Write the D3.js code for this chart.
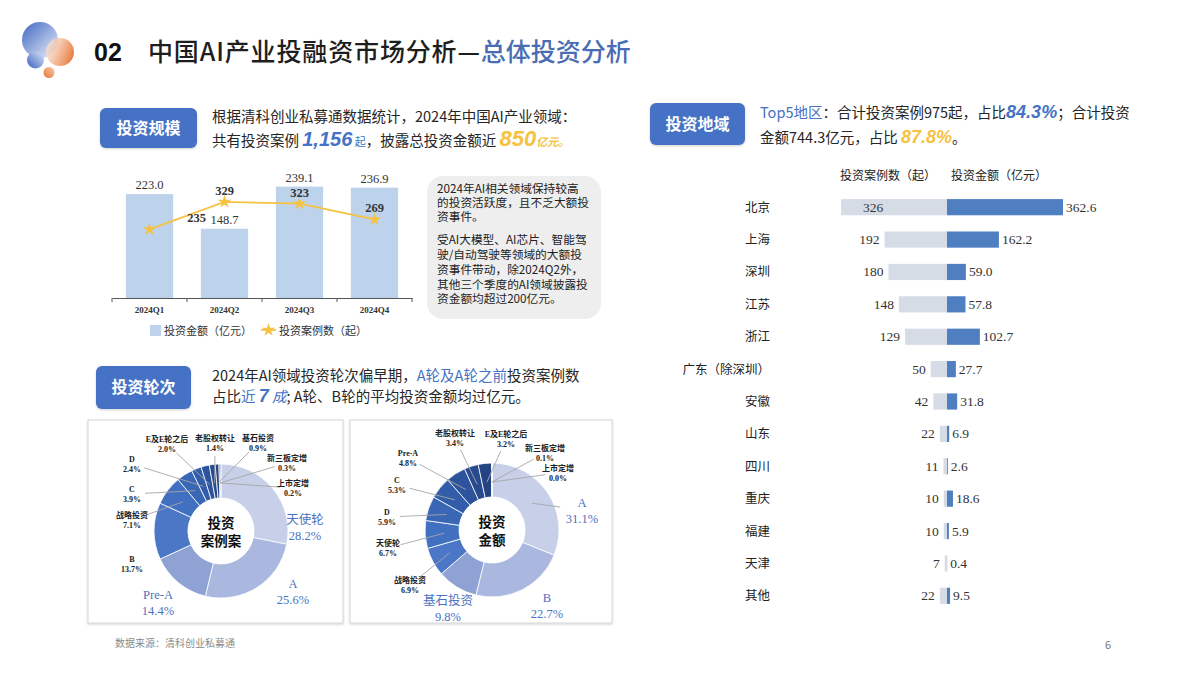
<!DOCTYPE html>
<html><head><meta charset="utf-8">
<script src="https://cdn.jsdelivr.net/npm/d3@7"></script>
<style>body{margin:0;background:#fff} svg text{font-family:"Noto Sans CJK SC","Noto Sans",sans-serif}</style>
</head><body><svg id="c" width="1200" height="675"></svg>
<script>
// ---------------- DATA ----------------
const quarters=["2024Q1","2024Q2","2024Q3","2024Q4"];
const amountQ=[223.0,148.7,239.1,236.9];
const casesQ=[235,329,323,269];

const roundCasesLabels=["天使轮","A","Pre-A","B","战略投资","C","D","E及E轮之后","老股权转让","基石投资","新三板定增","上市定增"];
const roundCasesValues=[28.2,25.6,14.4,13.7,7.1,3.9,2.4,2.0,1.4,0.9,0.3,0.2];
const roundAmountLabels=["A","B","基石投资","战略投资","天使轮","D","C","Pre-A","老股权转让","E及E轮之后","新三板定增","上市定增"];
const roundAmountValues=[31.1,22.7,9.8,6.9,6.7,5.9,5.3,4.8,3.4,3.2,0.1,0.0];

const regions=["北京","上海","深圳","江苏","浙江","广东（除深圳）","安徽","山东","四川","重庆","福建","天津","其他"];
const regionCases=[326,192,180,148,129,50,42,22,11,10,10,7,22];
const regionAmount=[362.6,162.2,59.0,57.8,102.7,27.7,31.8,6.9,2.6,18.6,5.9,0.4,9.5];

// ---------------- LAYOUT ----------------
const BLUE="#4472c4", GOLD="#f5c242", TXT="#262626";
const shades=["#c8d0e9","#aab8df","#8ea2d4","#4b77c6","#4270c0","#3966b5","#325daa","#2c539c","#284b8f","#234383","#1f3c77","#1c366c"];
// label offsets (text block centre relative to donut centre)
const leftLabelPos=[[84,-4],[72,60],[-63,71],[-89,33],[-89,-11],[-89,-37],[-89,-67],[-54,-87],[-6,-88],[37,-88],[66,-68],[72,-43]];
const leftBig=[1,1,1,0,0,0,0,0,0,0,0,0];
const leftLine=[0,0,0,0,1,1,1,1,1,1,1,1];
const rightLabelPos=[[90,-20],[55,75],[-44,78],[-82,55],[-104,18],[-105,-13],[-95,-45],[-84,-72],[-37,-92],[14,-91],[53,-77],[66,-57]];
const rightBig=[1,1,1,0,0,0,0,0,0,0,0,0];
const rightLine=[1,0,0,1,1,1,1,1,1,1,1,1];

const svg=d3.select("#c");
const defs=svg.append("defs");
function lin(id,c1,c2,x1,y1,x2,y2,o1=1,o2=1){
  const g=defs.append("linearGradient").attr("id",id).attr("x1",x1).attr("y1",y1).attr("x2",x2).attr("y2",y2);
  g.append("stop").attr("offset","0%").attr("stop-color",c1).attr("stop-opacity",o1);
  g.append("stop").attr("offset","100%").attr("stop-color",c2).attr("stop-opacity",o2);
}
lin("gBig","#3f66c2","#eef2fa","0","0","1","1");
lin("gOr","#fbe6d8","#e8763a","0","0.3","1","0.7",0.7,1);
lin("gSb","#3a60c0","#dde5f6","0","1","1","0");
lin("gSo","#e8763a","#f8c9a8","0","1","1","0");
const sh=defs.append("filter").attr("id","sh").attr("x","-5%").attr("y","-5%").attr("width","110%").attr("height","115%");
sh.append("feDropShadow").attr("dx",0).attr("dy",1).attr("stdDeviation",1.2).attr("flood-color","#000").attr("flood-opacity",0.18);

// logo
svg.append("circle").attr("cx",40).attr("cy",40).attr("r",18).attr("fill","url(#gBig)");
svg.append("circle").attr("cx",35.5).attr("cy",60).attr("r",8.5).attr("fill","url(#gSb)");
svg.append("circle").attr("cx",60).attr("cy",52).attr("r",14).attr("fill","url(#gOr)");
svg.append("circle").attr("cx",49).attr("cy",72.5).attr("r",5.5).attr("fill","url(#gSo)");

// title
svg.append("text").attr("x",94).attr("y",61).attr("font-size",25).attr("font-weight","bold")
  .style("font-family","'Liberation Sans',Arial,sans-serif").attr("fill","#111").text("02");
const tt=svg.append("text").attr("x",148).attr("y",61).attr("font-size",25).attr("font-weight",500);
tt.append("tspan").attr("fill","#1e1e1e").attr("textLength",332).attr("lengthAdjust","spacing").text("中国AI产业投融资市场分析—");
tt.append("tspan").attr("fill","#4a6cb3").text("总体投资分析");

function button(x,y,w,h,label){
  svg.append("rect").attr("x",x).attr("y",y).attr("width",w).attr("height",h).attr("rx",6).attr("fill",BLUE).attr("filter","url(#sh)");
  svg.append("text").attr("x",x+w/2).attr("y",y+h/2+5.5).attr("text-anchor","middle").attr("font-size",16).attr("font-weight","bold").attr("fill","#fff").text(label);
}
function rich(x,y,parts,size=14.5){
  const t=svg.append("text").attr("x",x).attr("y",y).attr("font-size",size).attr("fill",TXT);
  parts.forEach(p=>{
    const s=t.append("tspan").text(p.t);
    if(p.c) s.attr("fill",p.c);
    if(p.s) s.attr("font-size",p.s);
    if(p.b) s.attr("font-weight","bold");
    if(p.i) s.attr("font-style","italic");
    if(p.f) s.style("font-family",p.f);
  });
  return t;
}
const ARIAL="'Liberation Sans',Arial,sans-serif", SERIF="'Liberation Serif','Noto Sans CJK SC',serif";

// ---------------- Section 1 ----------------
button(100,108,97,40,"投资规模");
rich(212,122,[{t:"根据清科创业私募通数据统计，2024年中国AI产业领域："}]);
rich(212,146,[{t:"共有投资案例 "},{t:"1,156",c:BLUE,s:20,b:1,i:1,f:ARIAL},{t:" 起",c:BLUE,s:11},{t:"，披露总投资金额近 "},{t:"850",c:GOLD,s:22,b:1,i:1,f:ARIAL},{t:"亿元。",c:GOLD,s:11,b:1,i:1}]);

const xQ=d3.scaleBand().domain(quarters).range([112,412]).paddingInner(0.37).paddingOuter(0.185);
const yBar=d3.scaleLinear().domain([0,250]).range([298,181.5]);
const yLine=d3.scaleLinear().domain([0,400]).range([298,181.2]);
const gc=svg.append("g");
gc.selectAll("rect.bq").data(amountQ).join("rect").attr("class","bq")
  .attr("x",(d,i)=>xQ(quarters[i])).attr("width",xQ.bandwidth())
  .attr("y",d=>yBar(d)).attr("height",d=>yBar(0)-yBar(d)).attr("fill","#bdd3ec");
const ax=gc.append("g").attr("transform","translate(0,298)").call(d3.axisBottom(xQ).tickSize(0).tickPadding(9));
ax.select(".domain").attr("stroke","#555").attr("stroke-width",1.2);
ax.selectAll("text").style("font-family",SERIF).attr("font-size",9).attr("fill","#333").attr("font-weight","bold");
[0,1,2,3,4].forEach(i=>{const x=xQ.range()[0]+i*xQ.step();
  gc.append("line").attr("x1",x).attr("x2",x).attr("y1",298).attr("y2",302).attr("stroke","#555");});
gc.selectAll("text.bl").data(amountQ).join("text").attr("class","bl")
  .attr("x",(d,i)=>xQ(quarters[i])+xQ.bandwidth()/2).attr("y",d=>yBar(d)-5)
  .attr("text-anchor","middle").style("font-family",SERIF).attr("font-size",12.5).attr("fill","#333").text(d=>d.toFixed(1));
const line=d3.line().x((d,i)=>xQ(quarters[i])+xQ.bandwidth()/2).y(d=>yLine(d));
gc.append("path").datum(casesQ).attr("d",line).attr("fill","none").attr("stroke",GOLD).attr("stroke-width",1.8);
const star=d3.symbol().type(d3.symbolStar).size(55);
gc.selectAll("path.st").data(casesQ).join("path").attr("class","st")
  .attr("transform",(d,i)=>`translate(${xQ(quarters[i])+xQ.bandwidth()/2},${yLine(d)})`).attr("d",star).attr("fill",GOLD);
const lineLabelDx=[47,0,0,0];
gc.selectAll("text.ll").data(casesQ).join("text").attr("class","ll")
  .attr("x",(d,i)=>xQ(quarters[i])+xQ.bandwidth()/2+lineLabelDx[i]).attr("y",d=>yLine(d)-7)
  .attr("text-anchor","middle").style("font-family",SERIF).attr("font-size",12.5).attr("font-weight","bold").attr("fill","#333").text(d=>d);
// legend
gc.append("rect").attr("x",150).attr("y",325).attr("width",11).attr("height",11).attr("fill","#bdd3ec");
gc.append("text").attr("x",164).attr("y",335).attr("font-size",11).attr("fill","#333").text("投资金额（亿元）");
gc.append("line").attr("x1",261).attr("x2",276).attr("y1",330).attr("y2",330).attr("stroke",GOLD).attr("stroke-width",1.8);
gc.append("path").attr("transform","translate(268.5,330)").attr("d",star).attr("fill",GOLD);
gc.append("text").attr("x",279).attr("y",335).attr("font-size",11).attr("fill","#333").text("投资案例数（起）");

// note box
svg.append("rect").attr("x",427).attr("y",176).attr("width",174).attr("height",143).attr("rx",16).attr("fill","#eeeeee");
const noteLines=["2024年AI相关领域保持较高","的投资活跃度，且不乏大额投","资事件。","受AI大模型、AI芯片、智能驾","驶/自动驾驶等领域的大额投","资事件带动，除2024Q2外，","其他三个季度的AI领域披露投","资金额均超过200亿元。"];
const noteY=[193,207,221,244,259,274,289,303];
noteLines.forEach((l,i)=>svg.append("text").attr("x",437).attr("y",noteY[i]).attr("font-size",11.7).attr("fill","#222").text(l));

// ---------------- Section 2 ----------------
button(96,366,95,43,"投资轮次");
rich(212,381,[{t:"2024年AI领域投资轮次偏早期，"},{t:"A轮及A轮之前",c:BLUE},{t:"投资案例数"}]);
rich(212,402,[{t:"占比"},{t:"近 ",c:BLUE},{t:"7",c:BLUE,s:18,b:1,i:1,f:ARIAL},{t:" 成",c:BLUE,i:1},{t:"; A轮、B轮的平均投资金额均过亿元。"}]);

svg.append("rect").attr("x",88).attr("y",420).attr("width",255).attr("height",203).attr("fill","#fff").attr("stroke","#d6d6d6").attr("filter","url(#sh)");
svg.append("rect").attr("x",350).attr("y",420).attr("width",262).attr("height",203).attr("fill","#fff").attr("stroke","#d6d6d6").attr("filter","url(#sh)");

function donut(cx,cy,labels,values,pos,big,withLine,center){
  const g=svg.append("g").attr("transform",`translate(${cx},${cy})`);
  const arcs=d3.pie().sort(null).value(d=>d)(values);
  const arc=d3.arc().innerRadius(33).outerRadius(67);
  const mid=d3.arc().innerRadius(48).outerRadius(48);
  g.selectAll("path").data(arcs).join("path").attr("d",arc).attr("fill",(d,i)=>shades[i]).attr("stroke","#fff").attr("stroke-width",0.8);
  arcs.forEach((a,i)=>{
    const [lx,ly]=pos[i];
    if(withLine[i]){
      const [mx,my]=mid.centroid(a);
      const dx=mx-lx, dy=my-ly, L=Math.hypot(dx,dy);
      const off=big[i]?22:13;
      g.append("line").attr("x1",lx+dx/L*off).attr("y1",ly+dy/L*off).attr("x2",mx).attr("y2",my)
        .attr("stroke","#a6a6a6").attr("stroke-width",0.9);
    }
    const t=g.append("text").attr("text-anchor","middle").style("font-family",SERIF);
    if(big[i]){
      t.attr("fill","#4a72c0").attr("font-size",12.5);
      t.append("tspan").attr("x",lx).attr("y",ly-3).text(labels[i]);
      t.append("tspan").attr("x",lx).attr("y",ly+13).text(values[i].toFixed(1)+"%");
    } else {
      t.attr("fill","#222").attr("font-size",8).attr("font-weight","bold");
      t.append("tspan").attr("x",lx).attr("y",ly-2).text(labels[i]);
      t.append("tspan").attr("x",lx).attr("y",ly+8).text(values[i].toFixed(1)+"%");
    }
  });
  g.append("circle").attr("r",33).attr("fill","#fff");
  const ct=g.append("text").attr("text-anchor","middle").attr("font-size",13.5).attr("font-weight","bold").attr("fill","#111");
  ct.append("tspan").attr("x",0).attr("y",-3).text(center[0]);
  ct.append("tspan").attr("x",0).attr("y",15).text(center[1]);
}
donut(221,531,roundCasesLabels,roundCasesValues,leftLabelPos,leftBig,leftLine,["投资","案例案"]);
donut(492,530,roundAmountLabels,roundAmountValues,rightLabelPos,rightBig,rightLine,["投资","金额"]);

// ---------------- Section 3 ----------------
button(650,103,95,42,"投资地域");
rich(760,118,[{t:"Top5地区",c:BLUE},{t:"：合计投资案例975起，占比"},{t:"84.3%",c:BLUE,s:18,b:1,i:1,f:ARIAL},{t:"；合计投资"}]);
rich(760,143,[{t:"金额744.3亿元，占比 "},{t:"87.8%",c:GOLD,s:18,b:1,i:1,f:ARIAL},{t:"。"}]);

const CX=947;
const yR=d3.scaleBand().domain(regions).range([191,612]).paddingInner(0.5).paddingOuter(0.25);
const xL=d3.scaleLinear().domain([0,400]).range([0,130]);
const xR=d3.scaleLinear().domain([0,400]).range([0,128]);
svg.append("text").attr("x",888).attr("y",180).attr("text-anchor","middle").attr("font-size",12).attr("fill","#222").text("投资案例数（起）");
svg.append("text").attr("x",999).attr("y",180).attr("text-anchor","middle").attr("font-size",12).attr("fill","#222").text("投资金额（亿元）");
const gr=svg.append("g");
gr.selectAll("rect.lc").data(regionCases).join("rect").attr("class","lc")
  .attr("x",d=>CX-xL(d)).attr("width",d=>xL(d)).attr("y",(d,i)=>yR(regions[i])).attr("height",yR.bandwidth()).attr("fill","#d6dce6");
gr.selectAll("rect.ra").data(regionAmount).join("rect").attr("class","ra")
  .attr("x",CX).attr("width",d=>xR(d)).attr("y",(d,i)=>yR(regions[i])).attr("height",yR.bandwidth()).attr("fill","#4f7fc1");
gr.selectAll("text.lv").data(regionCases).join("text").attr("class","lv")
  .attr("x",d=>d>300?CX-xL(d)+22:CX-xL(d)-5).attr("text-anchor",d=>d>300?"start":"end")
  .attr("y",(d,i)=>yR(regions[i])+yR.bandwidth()/2+4.5).style("font-family",SERIF).attr("font-size",13.5).attr("fill","#333").text(d=>d);
gr.selectAll("text.rv").data(regionAmount).join("text").attr("class","rv")
  .attr("x",d=>CX+xR(d)+3).attr("y",(d,i)=>yR(regions[i])+yR.bandwidth()/2+4.5)
  .style("font-family",SERIF).attr("font-size",13.5).attr("fill","#333").text(d=>d.toFixed(1));
gr.selectAll("text.rn").data(regions).join("text").attr("class","rn")
  .attr("x",770).attr("y",d=>yR(d)+yR.bandwidth()/2+4.5).attr("text-anchor","end").attr("font-size",12.5).attr("fill","#222").text(d=>d);

// footer
svg.append("text").attr("x",115).attr("y",647).attr("font-size",10).attr("fill","#8a8a8a").text("数据来源：清科创业私募通");
svg.append("text").attr("x",1105).attr("y",649).attr("font-size",11).attr("fill","#777").text("6");
</script></body></html>
